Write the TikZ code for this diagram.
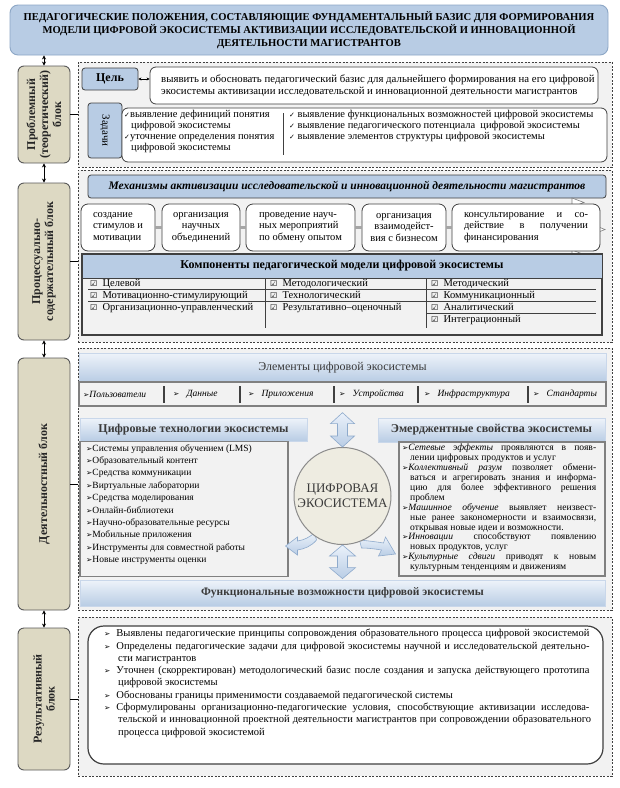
\documentclass[tikz,border=0pt]{standalone}
\usepackage{fontspec}
\setmainfont{Liberation Serif}
\newfontfamily\symf{DejaVu Sans}
\usetikzlibrary{arrows.meta,calc}
\definecolor{tblue}{HTML}{B8CCE4}
\definecolor{titleb}{HTML}{8DA7C6}
\definecolor{dgray}{HTML}{404040}
\definecolor{mgray}{HTML}{808080}
\definecolor{rgray}{HTML}{F2F2F2}
\definecolor{tanf}{HTML}{DDD9C3}
\definecolor{tanb}{HTML}{595959}
\definecolor{bandt}{HTML}{EEF3FA}
\definecolor{bandb}{HTML}{C9D7EA}
\definecolor{cfill}{HTML}{EEECE1}
\definecolor{cgray}{HTML}{8C8C8C}
\definecolor{atop}{HTML}{EAF1FA}
\definecolor{abot}{HTML}{B9CDE5}
\definecolor{abord}{HTML}{8EAACC}
\definecolor{htext}{HTML}{3A3A3A}
\newcommand\fs[2]{\fontsize{#1}{#2}\selectfont}
\newcommand\chk{{\symf\fontsize{7}{7}\selectfont ✓}}
\newcommand\cbx{{\symf\fontsize{8}{8}\selectfont ☑}}
\newcommand\bul{{\symf\fontsize{7.5}{7.5}\selectfont ➢}}
\newcommand\jl[2]{\makebox[#1][s]{#2}}
\tikzset{
  region/.style={draw=dgray, fill=rgray, dash pattern=on 2pt off 1.5pt, line width=0.7pt},
  tanbox/.style={draw=tanb, fill=tanf, rounded corners=6pt, line width=0.9pt},
  lbl/.style={rotate=90, align=center, font=\fs{12}{13}\bfseries, text=black!85},
  titlebox/.style={draw=titleb, fill=tblue, rounded corners=8pt, line width=0.9pt, align=center},
  bluebox/.style={draw=dgray, fill=tblue, rounded corners=3pt, line width=0.8pt},
  whitebox/.style={draw=dgray, fill=white, rounded corners=6pt, line width=0.8pt},
  band/.style={draw=bandb, top color=bandt, bottom color=tblue, line width=0.8pt},
  listbox/.style={draw=mgray, fill=rgray, line width=1.3pt},
  barr/.style={{Stealth[length=4pt,width=4pt]}-{Stealth[length=4pt,width=4pt]}, line width=0.8pt},
  smarr/.style={{Stealth[length=3pt,width=3pt]}-{Stealth[length=3pt,width=3pt]}, line width=0.8pt},
  blockarr/.style={draw=abord, top color=atop, bottom color=abot, line width=0.6pt},
  conn/.style={draw=black, line width=0.6pt},
  txt/.style={inner sep=0pt, align=left},
  tline/.style={draw=dgray, line width=0.7pt},
  mech/.style={whitebox, rounded corners=7pt, minimum height=47pt, inner sep=3pt, font=\fs{10.5}{11.5}},
}
\begin{document}
\begin{tikzpicture}[x=1pt,y=-1pt]
\useasboundingbox (0,0) rectangle (620,788);
\fill[white] (0,0) rectangle (620,788);
% regions
\node[region, minimum width=534pt, minimum height=105pt] (r1) at (345,114.5) {};
\node[region, minimum width=534pt, minimum height=172pt] (r2) at (345,256) {};
\node[region, minimum width=534pt, minimum height=262pt] (r3) at (345,479) {};
\node[region, minimum width=534pt, minimum height=159pt] (r4) at (345,696.5) {};
% title
\node[titlebox, minimum width=598pt, minimum height=50pt, font=\fs{10.6}{13}\bfseries] (title) at (309,30)
 {ПЕДАГОГИЧЕСКИЕ ПОЛОЖЕНИЯ, СОСТАВЛЯЮЩИЕ ФУНДАМЕНТАЛЬНЫЙ БАЗИС ДЛЯ ФОРМИРОВАНИЯ\\
  МОДЕЛИ ЦИФРОВОЙ ЭКОСИСТЕМЫ АКТИВИЗАЦИИ ИССЛЕДОВАТЕЛЬСКОЙ И ИННОВАЦИОННОЙ\\
  ДЕЯТЕЛЬНОСТИ МАГИСТРАНТОВ};
% left blocks
\node[tanbox, minimum width=52pt, minimum height=97pt] (b1) at (44,114.5) {};
\node[lbl] (b1t) at (b1) {Проблемный\\(теоретический)\\блок};
\node[tanbox, minimum width=52pt, minimum height=157pt] (b2) at (44,261.5) {};
\node[lbl] (b2t) at (b2) {Процессуально-\\содержательный блок};
\node[tanbox, minimum width=52pt, minimum height=252pt] (b3) at (44,484) {};
\node[lbl] (b3t) at (b3) {Деятельностный блок};
\node[tanbox, minimum width=52pt, minimum height=142pt] (b4) at (44,699) {};
\node[lbl] (b4t) at (b4) {Результативный\\блок};
\draw[barr] (title.south -| b1.north) -- (b1.north);
\draw[barr] (b1.south) -- (b2.north);
\draw[barr] (b2.south) -- (b3.north);
\draw[barr] (b3.south) -- (b4.north);
\draw[conn] (b1.east) -- (b1.east -| r1.west);
\draw[conn] (b2.east) -- (b2.east -| r2.west);
\draw[conn] (b3.east) -- (b3.east -| r3.west);
\draw[conn] (b4.east) -- (b4.east -| r4.west);
% ---- block 1
\node[bluebox, minimum width=56pt, minimum height=22pt, font=\fs{12}{12}\bfseries] (cel) at (110,79) {Цель};
\node[whitebox, minimum width=448pt, minimum height=37pt] (goal) at (374,85.5) {};
\node[txt, anchor=west, font=\fs{10.8}{12}] (goalt) at (161,85.5)
 {выявить и обосновать педагогический базис для дальнейшего формирования на его цифровой\\
  экосистемы активизации исследовательской и инновационной деятельности магистрантов};
\draw[smarr] (cel.east) -- (cel.east -| goal.west);
\node[bluebox, minimum width=34pt, minimum height=55pt] (zad) at (105,130.5) {};
\node[rotate=-90, font=\fs{11}{11}] (zadt) at (zad) {Задачи};
\node[whitebox, minimum width=485pt, minimum height=54pt] (tasks) at (364.5,135) {};
\coordinate (dv1) at (283,113);
\coordinate (dv2) at (283,155);
\draw[tline] (dv1) -- (dv2);
\node[txt, anchor=north west, font=\fs{10.5}{11}] (tl) at (124,110)
 {\chk выявление дефиниций понятия\\
  \hspace*{7pt}цифровой экосистемы\\
  \chk уточнение определения понятия\\
  \hspace*{7pt}цифровой экосистемы};
\node[txt, anchor=north west, font=\fs{10.5}{11}] (tr) at (289,110)
 {\chk\ выявление функциональных возможностей цифровой экосистемы\\
  \chk\ выявление педагогического потенциала\ \ цифровой экосистемы\\
  \chk\ выявление элементов структуры цифровой экосистемы};
% ---- block 2
\node[bluebox, minimum width=518pt, minimum height=23pt, font=\fs{11.5}{12}\bfseries\itshape] (mh) at (347,186.5)
 {Механизмы активизации исследовательской и инновационной деятельности магистрантов};
\draw[mgray, fill=white, line width=0.6pt] (572,198) -- (584,202.5) -- (572,207) -- cycle;
\draw[mgray, fill=white, line width=0.6pt] (596,226) -- (605,229.5) -- (596,233) -- cycle;
\draw[mgray, fill=white, line width=0.6pt] (572,250) -- (584,254.5) -- (572,259) -- cycle;
\node[mech, minimum width=74pt, align=left] (m1) at (118,227.5) {создание\\стимулов и\\мотивации};
\node[mech, minimum width=78pt, align=center] (m2) at (201,227.5) {организация\\научных\\объединений};
\node[mech, minimum width=109pt, align=left] (m3) at (300.5,227.5) {проведение науч-\\ных мероприятий\\по обмену опытом};
\node[mech, minimum width=84pt, align=center] (m4) at (404,227.5) {организация\\взаимодейст-\\вия с бизнесом};
\node[mech, minimum width=148pt, align=left] (m5) at (526,227.5)
 {\jl{124pt}{консультирование и со-}\\\jl{124pt}{действие в получении}\\финансирования};
\foreach \a/\b in {m1/m2,m2/m3,m3/m4,m4/m5}
  \draw[mgray!70, line width=2.2pt] (\a.east) -- (\b.west);
\node[draw=dgray, fill=rgray, line width=1.2pt, minimum width=520pt, minimum height=81pt] (comp) at (342,294.5) {};
\node[draw=dgray, fill=tblue, line width=0.9pt, minimum width=520pt, minimum height=24pt, font=\fs{12}{12}\bfseries] (comph) at (342,266)
 {Компоненты педагогической модели цифровой экосистемы};
\coordinate (hl1a) at (88,289); \coordinate (hl1b) at (596,289);
\coordinate (hl2a) at (88,301); \coordinate (hl2b) at (596,301);
\coordinate (hl3a) at (426,313); \coordinate (hl3b) at (596,313);
\coordinate (vl1a) at (265,278); \coordinate (vl1b) at (265,328);
\coordinate (vl2a) at (426,278); \coordinate (vl2b) at (426,328);
\draw[tline] (hl1a) -- (hl1b);
\draw[tline] (hl2a) -- (hl2b);
\draw[tline] (hl3a) -- (hl3b);
\draw[tline] (vl1a) -- (vl1b);
\draw[tline] (vl2a) -- (vl2b);
\node[txt, anchor=north west, font=\fs{10.5}{12}] (c1) at (90,279)
 {\cbx\ \ Целевой\\\cbx\ \ Мотивационно-стимулирующий\\\cbx\ \ Организационно-управленческий};
\node[txt, anchor=north west, font=\fs{10.5}{12}] (c2) at (270,279)
 {\cbx\ \ Методологический\\\cbx\ \ Технологический\\\cbx\ \ Результативно–оценочный};
\node[txt, anchor=north west, font=\fs{10.5}{12}] (c3) at (431,279)
 {\cbx\ \ Методический\\\cbx\ \ Коммуникационный\\\cbx\ \ Аналитический\\\cbx\ \ Интеграционный};
% ---- block 3
\node[band, minimum width=527pt, minimum height=29pt, font=\fs{12}{12}, text=htext] (elh) at (342.5,367.5) {Элементы цифровой экосистемы};
\node[listbox, minimum width=527pt, minimum height=24pt] (elr) at (342.5,394) {};
\foreach \x/\n in {164/s1,240/s2,334/s3,418/s4,528/s5}{
  \coordinate (\n a) at (\x,386); \coordinate (\n b) at (\x,403);
  \draw[dgray, line width=1.2pt] (\n a) -- (\n b);}
\node[txt, anchor=west, font=\fs{9.5}{10}\itshape] (e1) at (83,394) {\bul Пользователи};
\node[txt, anchor=west, font=\fs{9.5}{10}\itshape] (e2) at (173,394) {\bul\ \ \ Данные};
\node[txt, anchor=west, font=\fs{9.5}{10}\itshape] (e3) at (248,394) {\bul\ \ \ Приложения};
\node[txt, anchor=west, font=\fs{9.5}{10}\itshape] (e4) at (339,394) {\bul\ \ \ Устройства};
\node[txt, anchor=west, font=\fs{9.5}{10}\itshape] (e5) at (424,394) {\bul\ \ \ Инфраструктура};
\node[txt, anchor=west, font=\fs{9.5}{10}\itshape] (e6) at (533,394) {\bul\ \ \ Стандарты};
% center
\node[band, minimum width=227pt, minimum height=23pt, font=\fs{12}{12}\bfseries, text=htext] (dth) at (193.5,429.5) {Цифровые технологии экосистемы};
\node[listbox, minimum width=208pt, minimum height=135pt] (dtl) at (184,509) {};
\node[txt, anchor=north west, font=\fs{9.5}{12.4}] (dtt) at (86,444)
 {\bul Системы управления обучением (LMS)\\
  \bul Образовательный контент\\
  \bul Средства коммуникации\\
  \bul Виртуальные лаборатории\\
  \bul Средства моделирования\\
  \bul Онлайн-библиотеки\\
  \bul Научно-образовательные ресурсы\\
  \bul Мобильные приложения\\
  \bul Инструменты для совместной работы\\
  \bul Новые инструменты оценки};
\node[band, minimum width=227pt, minimum height=24pt, font=\fs{12}{12}\bfseries, text=htext] (emh) at (491.5,430) {Эмерджентные свойства экосистемы};
\node[listbox, minimum width=206pt, minimum height=134pt] (eml) at (502,509) {};
\node[txt, anchor=north west, font=\fs{9.6}{9.9}] (emt) at (402,444)
 {\jl{194pt}{\bul\textit{Сетевые эффекты} проявляются в появ-}\\
  \hspace*{8pt}лении цифровых продуктов и услуг\\
  \jl{194pt}{\bul\textit{Коллективный разум} позволяет обмени-}\\
  \hspace*{8pt}\jl{186pt}{ваться и агрегировать знания и информа-}\\
  \hspace*{8pt}\jl{186pt}{цию для более эффективного решения}\\
  \hspace*{8pt}проблем\\
  \jl{194pt}{\bul\textit{Машинное обучение} выявляет неизвест-}\\
  \hspace*{8pt}\jl{186pt}{ные ранее закономерности и взаимосвязи,}\\
  \hspace*{8pt}открывая новые идеи и возможности.\\
  \jl{194pt}{\bul\textit{Инновации} способствуют появлению}\\
  \hspace*{8pt}новых продуктов, услуг\\
  \jl{194pt}{\bul\textit{Культурные сдвиги} приводят к новым}\\
  \hspace*{8pt}культурным тенденциям и движениям};
\node[band, minimum width=525pt, minimum height=26pt, font=\fs{11.5}{12}\bfseries, text=htext] (fun) at (342.5,593) {Функциональные возможности цифровой экосистемы};
% arrows around circle
\coordinate (ec) at (342.5,496);
\path[blockarr] ($(ec)+(-57,50)$) -- ($(ec)+(-45,41)$) -- ($(ec)+(-45,45)$) .. controls ($(ec)+(-38,44)$) and ($(ec)+(-33,41)$) .. ($(ec)+(-28,37)$) -- ($(ec)+(-26,44)$) .. controls ($(ec)+(-31,50)$) and ($(ec)+(-38,53)$) .. ($(ec)+(-45,54)$) -- ($(ec)+(-45,59)$) -- cycle;
\path[blockarr] ($(ec)+(17,44)$) .. controls ($(ec)+(27,45)$) and ($(ec)+(35,46)$) .. ($(ec)+(41,47)$) -- ($(ec)+(43,41)$) -- ($(ec)+(53,58)$) -- ($(ec)+(36,60)$) -- ($(ec)+(39,54)$) .. controls ($(ec)+(33,53)$) and ($(ec)+(26,52)$) .. ($(ec)+(19,52)$) -- cycle;
\node[circle, draw=cgray, fill=cfill, line width=1pt, minimum size=97pt, inner sep=0pt, align=center, font=\fs{13}{15}, text=htext] (eco) at (ec) {ЦИФРОВАЯ\\ЭКОСИСТЕМА};
\coordinate (ta) at ($(elr.south -| eco.north)+(0,6)$);
\coordinate (tb) at (eco.north);
\path[blockarr] (ta) -- ($(ta)+(-12,11)$) -- ($(ta)+(-5,11)$) -- ($(tb)+(-5,-11)$) -- ($(tb)+(-12,-11)$) -- (tb) -- ($(tb)+(12,-11)$) -- ($(tb)+(5,-11)$) -- ($(ta)+(5,11)$) -- ($(ta)+(12,11)$) -- cycle;
\coordinate (ba) at (eco.south);
\coordinate (bb) at ($(fun.north -| eco.south)+(0,-1)$);
\path[blockarr] (ba) -- ($(ba)+(-13,11)$) -- ($(ba)+(-5,11)$) -- ($(bb)+(-5,-11)$) -- ($(bb)+(-13,-11)$) -- (bb) -- ($(bb)+(13,-11)$) -- ($(bb)+(5,-11)$) -- ($(ba)+(5,11)$) -- ($(ba)+(13,11)$) -- cycle;
% ---- block 4
\node[whitebox, rounded corners=16pt, line width=1.2pt, minimum width=515pt, minimum height=138pt] (res) at (345.5,695) {};
\node[txt, anchor=north west, font=\fs{10.5}{12.3}] (rest) at (104,629)
 {\bul\hspace{6pt}\jl{473pt}{Выявлены педагогические принципы сопровождения образовательного процесса цифровой экосистемой}\\
  \bul\hspace{6pt}\jl{473pt}{Определены педагогические задачи для цифровой экосистемы научной и исследовательской деятельно-}\\
  \hspace*{14pt}сти магистрантов\\
  \bul\hspace{6pt}\jl{473pt}{Уточнен (скорректирован) методологический базис после создания и запуска действующего прототипа}\\
  \hspace*{14pt}цифровой экосистемы\\
  \bul\hspace{6pt}Обоснованы границы применимости создаваемой педагогической системы\\
  \bul\hspace{6pt}\jl{473pt}{Сформулированы организационно-педагогические условия, способствующие активизации исследова-}\\
  \hspace*{14pt}\jl{473pt}{тельской и инновационной проектной деятельности магистрантов при сопровождении образовательного}\\
  \hspace*{14pt}процесса цифровой экосистемой};
\end{tikzpicture}
\end{document}
